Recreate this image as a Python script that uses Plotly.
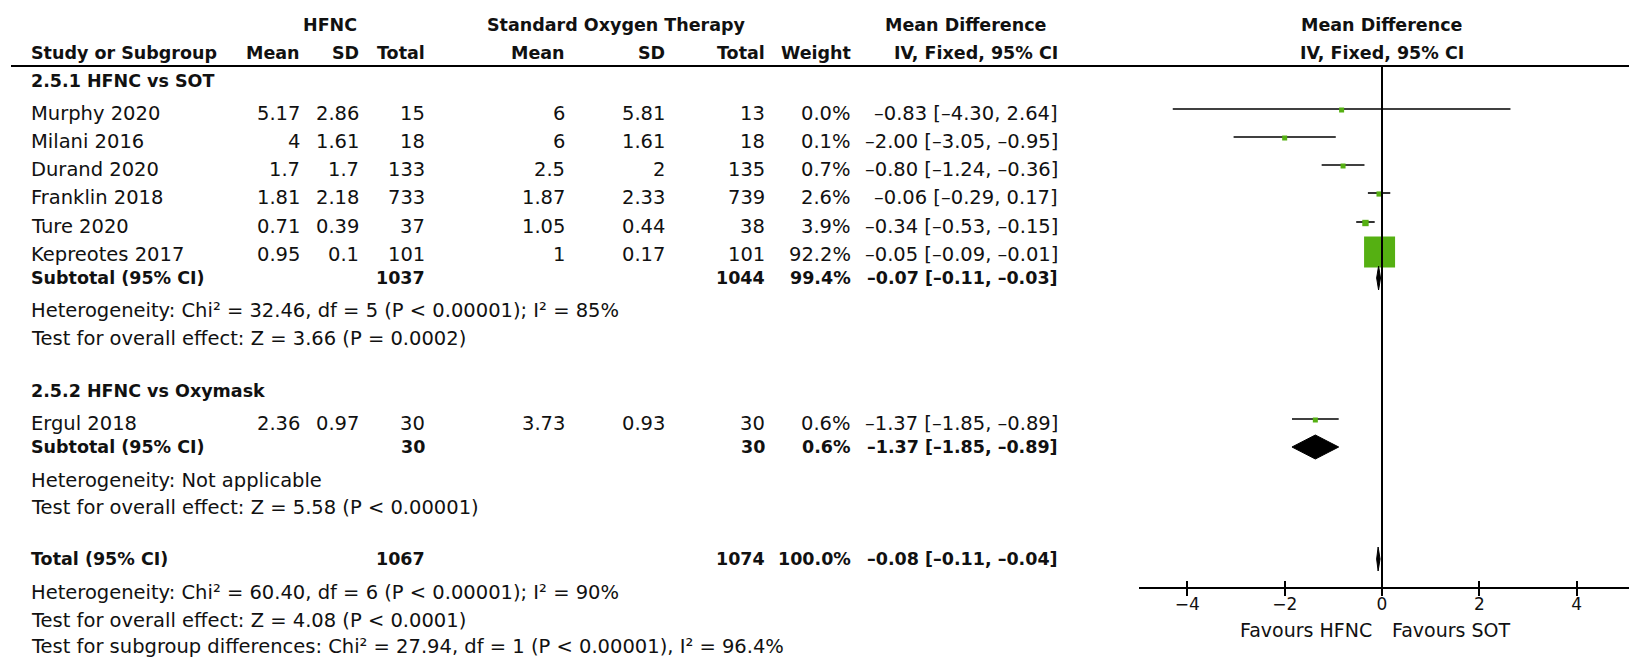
import plotly.graph_objects as go

W, H = 1629, 659

# ---------------- data ----------------
studies = ["Murphy 2020", "Milani 2016", "Durand 2020", "Franklin 2018",
           "Ture 2020", "Kepreotes 2017", "Ergul 2018"]
hfnc_mean = [5.17, 4, 1.7, 1.81, 0.71, 0.95, 2.36]
hfnc_sd = [2.86, 1.61, 1.7, 2.18, 0.39, 0.1, 0.97]
hfnc_n = [15, 18, 133, 733, 37, 101, 30]
sot_mean = [6, 6, 2.5, 1.87, 1.05, 1, 3.73]
sot_sd = [5.81, 1.61, 2, 2.33, 0.44, 0.17, 0.93]
sot_n = [13, 18, 135, 739, 38, 101, 30]
weight = [0.0, 0.1, 0.7, 2.6, 3.9, 92.2, 0.6]
md = [-0.83, -2.00, -0.80, -0.06, -0.34, -0.05, -1.37]
md_lo = [-4.30, -3.05, -1.24, -0.29, -0.53, -0.09, -1.85]
md_hi = [2.64, -0.95, -0.36, 0.17, -0.15, -0.01, -0.89]

sub_labels = ["Subtotal (95% CI)", "Subtotal (95% CI)", "Total (95% CI)"]
sub_hfnc_n = [1037, 30, 1067]
sub_sot_n = [1044, 30, 1074]
sub_weight = [99.4, 0.6, 100.0]
sub_md = [-0.07, -1.37, -0.08]
sub_lo = [-0.11, -1.85, -0.11]
sub_hi = [-0.03, -0.89, -0.04]

section_titles = ["2.5.1 HFNC vs SOT", "2.5.2 HFNC vs Oxymask"]
notes_1 = ["Heterogeneity: Chi² = 32.46, df = 5 (P < 0.00001); I² = 85%",
           "Test for overall effect: Z = 3.66 (P = 0.0002)"]
notes_2 = ["Heterogeneity: Not applicable",
           "Test for overall effect: Z = 5.58 (P < 0.00001)"]
notes_total = ["Heterogeneity: Chi² = 60.40, df = 6 (P < 0.00001); I² = 90%",
               "Test for overall effect: Z = 4.08 (P < 0.0001)",
               "Test for subgroup differences: Chi² = 27.94, df = 1 (P < 0.00001), I² = 96.4%"]
tick_vals = [-4, -2, 0, 2, 4]
favours = ["Favours HFNC", "Favours SOT"]

# ---------------- layout constants (pixels) ----------------
study_y = [113, 141, 169, 197, 226, 254, 423]
sub_y = [278, 447, 559]
sec_y = [81, 391]
notes1_y = [310, 338]
notes2_y = [480, 507]
notest_y = [592, 620, 646]
AXIS_Y = 588
HEAD_LINE_Y = 66
X_LEFT = 29
COL_R = dict(hm=302, hs=361, hn=427, sm=567, ss=667, sn=767, w=853, ci=1060)
ZERO_PX = 1382
PX_PER_UNIT = 48.66
X0_PX = ZERO_PX - 5 * PX_PER_UNIT
xmax = (W - X0_PX) / PX_PER_UNIT - 5

GREEN = "#55b012"
FONT = "DejaVu Sans"
FS = 19.5
FSB = 17.5

fig = go.Figure()
ann = []


def txt(xpx, ypx, s, anchor="right", bold=False, size=None):
    if size is None:
        size = FSB if bold else FS
    if bold:
        s = "<b>" + s + "</b>"
    ann.append(dict(x=xpx / W, xref="paper", y=ypx, yref="y", text=s,
                    xanchor=anchor, yanchor="middle", showarrow=False,
                    font=dict(family=FONT, size=size, color="#111")))


def fmt(v):
    return f"{v:g}"


def ci_str(m, l, h):
    return f"{m:.2f} [{l:.2f}, {h:.2f}]".replace("-", "–")


# headers
txt(330, 25, "HFNC", "center", True)
txt(616, 25, "Standard Oxygen Therapy", "center", True)
txt(966, 25, "Mean Difference", "center", True)
txt(ZERO_PX, 25, "Mean Difference", "center", True)
txt(X_LEFT, 53, "Study or Subgroup", "left", True)
for key, lab in [("hm", "Mean"), ("hs", "SD"), ("hn", "Total"), ("sm", "Mean"),
                 ("ss", "SD"), ("sn", "Total"), ("w", "Weight"), ("ci", "IV, Fixed, 95% CI")]:
    txt(COL_R[key], 53, lab, "right", True)
txt(ZERO_PX, 53, "IV, Fixed, 95% CI", "center", True)

# section titles
for y, s in zip(sec_y, section_titles):
    txt(X_LEFT, y, s, "left", True)

# study rows
for i, s in enumerate(studies):
    y = study_y[i]
    txt(X_LEFT, y, s, "left")
    txt(COL_R["hm"], y, fmt(hfnc_mean[i]))
    txt(COL_R["hs"], y, fmt(hfnc_sd[i]))
    txt(COL_R["hn"], y, str(hfnc_n[i]))
    txt(COL_R["sm"], y, fmt(sot_mean[i]))
    txt(COL_R["ss"], y, fmt(sot_sd[i]))
    txt(COL_R["sn"], y, str(sot_n[i]))
    txt(COL_R["w"], y, f"{weight[i]:.1f}%")
    txt(COL_R["ci"], y, ci_str(md[i], md_lo[i], md_hi[i]))

# subtotal rows
for j, lab in enumerate(sub_labels):
    y = sub_y[j]
    txt(X_LEFT, y, lab, "left", True)
    txt(COL_R["hn"], y, str(sub_hfnc_n[j]), bold=True)
    txt(COL_R["sn"], y, str(sub_sot_n[j]), bold=True)
    txt(COL_R["w"], y, f"{sub_weight[j]:.1f}%", bold=True)
    txt(COL_R["ci"], y, ci_str(sub_md[j], sub_lo[j], sub_hi[j]), bold=True)

for ys, ns in [(notes1_y, notes_1), (notes2_y, notes_2), (notest_y, notes_total)]:
    for y, s in zip(ys, ns):
        txt(X_LEFT, y, s, "left")

# favours labels
txt(ZERO_PX - 8, 630, favours[0], "right", size=19)
txt(ZERO_PX + 8, 630, favours[1], "left", size=19)

# ---------------- forest marks ----------------
for i in range(len(studies)):
    y = study_y[i] - 4
    fig.add_trace(go.Scatter(x=[md_lo[i], md_hi[i]], y=[y, y], mode="lines",
                             line=dict(color="black", width=1.6),
                             hoverinfo="skip", showlegend=False))
    size = max(5, 31 * (weight[i] / max(weight)) ** 0.5)
    fig.add_trace(go.Scatter(x=[md[i]], y=[y + (2 if size > 20 else 1)], mode="markers",
                             marker=dict(symbol="square", size=size, color=GREEN,
                                         line=dict(width=0)),
                             hoverinfo="skip", showlegend=False))

DH = 12
for j in range(len(sub_md)):
    yc = sub_y[j]
    fig.add_trace(go.Scatter(
        x=[sub_lo[j], sub_md[j], sub_hi[j], sub_md[j], sub_lo[j]],
        y=[yc, yc - DH, yc, yc + DH, yc], mode="lines", fill="toself",
        fillcolor="black", line=dict(color="black", width=1),
        hoverinfo="skip", showlegend=False))

shapes = [
    dict(type="line", xref="paper", yref="y", x0=11 / W, x1=1,
         y0=HEAD_LINE_Y, y1=HEAD_LINE_Y, line=dict(color="black", width=2)),
    dict(type="line", xref="x", yref="y", x0=0, x1=0, y0=HEAD_LINE_Y, y1=AXIS_Y,
         line=dict(color="black", width=2)),
]

fig.update_layout(
    width=W, height=H, margin=dict(l=0, r=0, t=0, b=0),
    paper_bgcolor="white", plot_bgcolor="white",
    annotations=ann, shapes=shapes, showlegend=False, hovermode=False,
    xaxis=dict(domain=[X0_PX / W, 1], range=[-5, xmax], anchor="free",
               position=(H - AXIS_Y) / H, showline=True, linecolor="black",
               linewidth=2, ticks="outside", ticklen=7, tickwidth=2,
               tickcolor="black", tickvals=tick_vals, showgrid=False,
               zeroline=False, ticklabelstandoff=-6,
               tickfont=dict(family=FONT, size=17, color="#111")),
    xaxis2=dict(overlaying="x", matches="x", anchor="free",
                position=(H - AXIS_Y) / H, showline=False, ticks="inside",
                ticklen=7, tickwidth=2, tickcolor="black", tickvals=tick_vals,
                showticklabels=False, showgrid=False, zeroline=False),
    yaxis=dict(domain=[0, 1], range=[H, 0], visible=False),
)
# invisible trace so the overlay axis (inner tick halves) is drawn
fig.add_trace(go.Scatter(x=[0], y=[-100], xaxis="x2", mode="markers",
                         marker=dict(size=1, color="rgba(0,0,0,0)"),
                         hoverinfo="skip", showlegend=False))

fig.write_html("out.html", config={"displayModeBar": False},
               post_script="document.body.style.margin='0';document.body.style.overflow='hidden';")
